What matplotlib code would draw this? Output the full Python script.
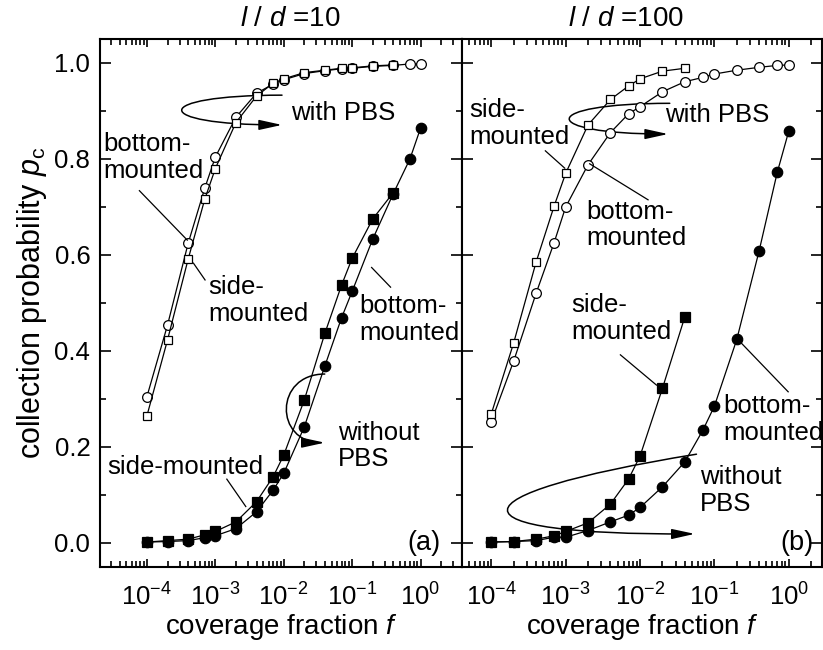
import matplotlib
matplotlib.use("Agg")
import matplotlib.pyplot as plt
import numpy as np
from matplotlib.path import Path
from matplotlib.patches import FancyArrowPatch
from matplotlib.ticker import LogLocator, NullFormatter, MultipleLocator, FormatStrFormatter

plt.rcParams['font.family'] = ['Liberation Sans', 'DejaVu Sans']
plt.rcParams['mathtext.fontset'] = 'custom'
plt.rcParams['mathtext.rm'] = 'Liberation Sans'
plt.rcParams['mathtext.it'] = 'Liberation Sans:italic'

# coverage fraction values
f_all = [1e-4, 2e-4, 4e-4, 7e-4, 1e-3, 2e-3, 4e-3, 7e-3, 1e-2, 2e-2, 4e-2, 7e-2, 0.1, 0.2, 0.4, 0.7, 1.0]

# (a) l/d = 10
a_open_bottom = [0.305, 0.454, 0.624, 0.739, 0.804, 0.887, 0.937, 0.956, 0.965, 0.978, 0.984, 0.988, 0.989, 0.993, 0.995, 0.998, 0.998]
a_open_side = [0.265, 0.423, 0.591, 0.716, 0.780, 0.876, 0.931, 0.958, 0.967, 0.980, 0.985, 0.989, 0.990, 0.994, 0.996]
a_fill_side = [0.002, 0.005, 0.008, 0.017, 0.024, 0.044, 0.086, 0.138, 0.183, 0.298, 0.437, 0.537, 0.593, 0.675, 0.730]
a_fill_bottom = [0.002, 0.003, 0.005, 0.011, 0.015, 0.030, 0.065, 0.110, 0.145, 0.242, 0.369, 0.469, 0.524, 0.633, 0.728, 0.800, 0.864]

# (b) l/d = 100
b_open_side = [0.269, 0.417, 0.585, 0.702, 0.770, 0.871, 0.924, 0.952, 0.967, 0.983, 0.989]
b_open_bottom = [0.253, 0.379, 0.520, 0.626, 0.700, 0.788, 0.855, 0.894, 0.909, 0.940, 0.961, 0.970, 0.977, 0.985, 0.991, 0.995, 0.996]
b_fill_side = [0.002, 0.003, 0.008, 0.015, 0.024, 0.042, 0.081, 0.133, 0.181, 0.322, 0.471]
b_fill_bottom = [0.002, 0.003, 0.005, 0.012, 0.012, 0.026, 0.044, 0.058, 0.074, 0.117, 0.169, 0.235, 0.285, 0.424, 0.609, 0.772, 0.858]

fig = plt.figure(figsize=(8.23, 6.5), dpi=100)
ax1 = fig.add_axes([0.1215, 0.1277, 0.4395, 0.8123])
ax2 = fig.add_axes([0.561, 0.1277, 0.4378, 0.8123])

lw = 0.9
def series(ax, y, marker, filled, ms):
    x = f_all[:len(y)]
    ax.plot(x, y, '-', color='black', lw=lw, marker=marker, ms=ms,
            mfc='black' if filled else 'white', mec='black', mew=0.9)

series(ax1, a_open_bottom, 'o', False, 7)
series(ax1, a_open_side, 's', False, 6)
series(ax1, a_fill_bottom, 'o', True, 7.5)
series(ax1, a_fill_side, 's', True, 6.5)

series(ax2, b_open_bottom, 'o', False, 7)
series(ax2, b_open_side, 's', False, 6)
series(ax2, b_fill_bottom, 'o', True, 7.5)
series(ax2, b_fill_side, 's', True, 6.5)

for ax in (ax1, ax2):
    ax.set_xscale('log')
    ax.set_ylim(-0.05, 1.05)
    ax.xaxis.set_major_locator(LogLocator(base=10, numticks=20))
    ax.xaxis.set_minor_locator(LogLocator(base=10, subs=np.arange(2, 10), numticks=20))
    ax.xaxis.set_minor_formatter(NullFormatter())
    ax.yaxis.set_major_locator(MultipleLocator(0.2))
    ax.yaxis.set_minor_locator(MultipleLocator(0.1))
    ax.yaxis.set_major_formatter(FormatStrFormatter('%.1f'))
    ax.tick_params(which='both', direction='in', top=True, right=True, width=1.2)
    ax.tick_params(which='major', length=8)
    ax.tick_params(which='minor', length=4)
    ax.tick_params(axis='x', which='major', length=6, labelsize=18.5, pad=12)
    ax.tick_params(axis='y', labelsize=18.5, pad=7)
    for s in ax.spines.values():
        s.set_linewidth(1.5)
    ax.set_xlabel(r'coverage fraction $f$', fontsize=20, labelpad=1)

ax1.set_xlim(2.06e-5, 4.0)
ax2.set_xlim(4e-5, 2.8)
ax2.tick_params(axis='y', which='both', labelleft=False)
ax2.tick_params(axis='y', which='minor', left=False)
ax1.set_ylabel(r'collection probability $p_{\mathrm{c}}$', fontsize=22, labelpad=4)

ax1.text(0.526, 1.0246, r'$l$ / $d$ =10', transform=ax1.transAxes, ha='center', va='baseline', fontsize=20)
ax2.text(0.457, 1.0246, r'$l$ / $d$ =100', transform=ax2.transAxes, ha='center', va='baseline', fontsize=20)

fs = 18.5
# labels: (text, log10 x, y)
labels_a = [('bottom-\nmounted', -4.64, 0.8025), ('side-\nmounted', -3.10, 0.506),
            ('bottom-\nmounted', -0.896, 0.4665), ('side-mounted', -4.584, 0.159),
            ('without\nPBS', -1.21, 0.202), ('with PBS', -1.90, 0.896)]
labels_b = [('side-\nmounted', -4.292, 0.874), ('bottom-\nmounted', -2.721, 0.6625),
            ('with PBS', -1.667, 0.892), ('side-\nmounted', -2.923, 0.468),
            ('bottom-\nmounted', -0.883, 0.2575), ('without\nPBS', -1.196, 0.11)]
# leader lines: (log x0, y0, log x1, y1)
leaders_a = [(-4.11, 0.734, -3.41, 0.631), (-3.32, 0.583, -3.15, 0.548),
             (-0.715, 0.574, -0.438, 0.533), (-2.832, 0.133, -2.555, 0.076)]
leaders_b = [(-3.273, 0.817, -3.013, 0.781), (-2.677, 0.79, -1.892, 0.715),
             (-2.264, 0.392, -1.779, 0.329), (-0.635, 0.416, -0.008, 0.315)]
# loops: start (log x, y), control log x, control ys, end (log x, y)
loops_a = [(-2.025, 0.933, -3.972, 0.933, 0.871, -2.025, 0.871),
           (-1.40, 0.352, -2.14, 0.352, 0.209, -1.40, 0.209)]
loops_b = [(-1.60, 0.916, -3.391, 0.916, 0.852, -1.623, 0.852),
           (-1.241, 0.185, -4.618, 0.10, 0.016, -1.264, 0.019)]

for ax, labels, leaders, loops in ((ax1, labels_a, leaders_a, loops_a), (ax2, labels_b, leaders_b, loops_b)):
    for t, lx, y in labels:
        ax.text(10**lx, y, t, ha='left', va='center', fontsize=fs, linespacing=1.15)
    for x0, y0, x1, y1 in leaders:
        ax.plot([10**x0, 10**x1], [y0, y1], color='black', lw=0.9)
    for sx, sy, cx, c1y, c2y, ex, ey in loops:
        verts = [(10**sx, sy), (10**cx, c1y), (10**cx, c2y), (10**ex, ey)]
        path = Path(verts, [Path.MOVETO, Path.CURVE4, Path.CURVE4, Path.CURVE4])
        arr = FancyArrowPatch(path=path, arrowstyle='-|>,head_length=1.0,head_width=0.22',
                              mutation_scale=14, color='black', lw=1.1, transform=ax.transData)
        ax.add_patch(arr)

ax1.text(0.94, 0.0, '(a)', transform=ax1.get_yaxis_transform(), ha='right', va='center', fontsize=19.5)
ax2.text(0.975, 0.0, '(b)', transform=ax2.get_yaxis_transform(), ha='right', va='center', fontsize=19.5)

fig.savefig('out.png', dpi=100)
